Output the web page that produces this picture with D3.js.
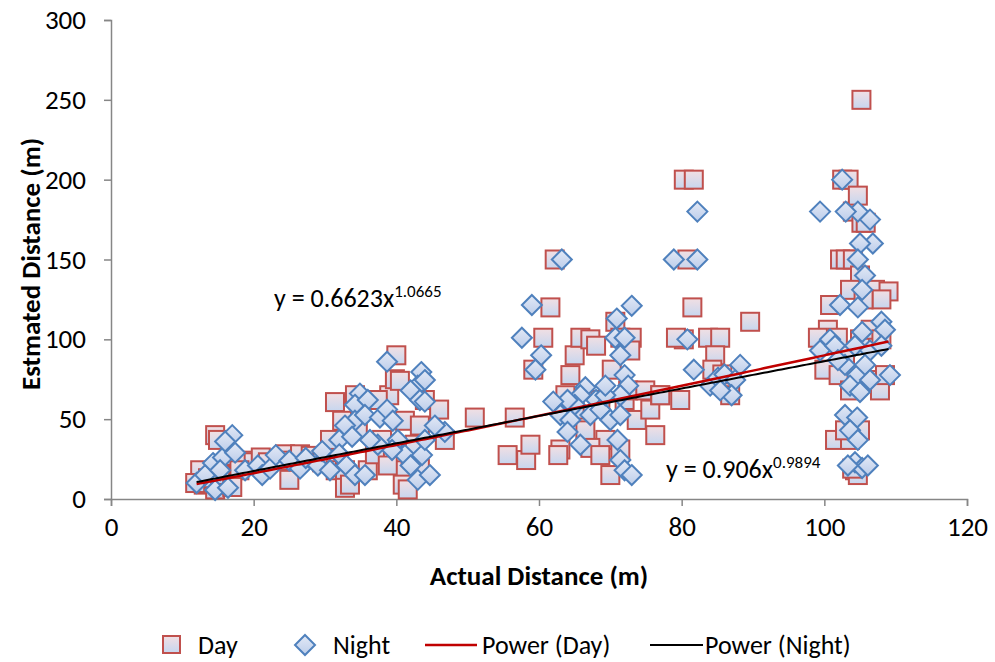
<!DOCTYPE html>
<html><head><meta charset="utf-8">
<script src="https://cdn.jsdelivr.net/npm/d3@7"></script>
<style>body{margin:0;background:#fff}svg{display:block;font-family:Carlito,Lato,"Liberation Sans",sans-serif}</style>
</head><body><div id="c"></div>
<script>
const xTicks=[0,20,40,60,80,100,120];
const yTicks=[0,50,100,150,200,250,300];
const dayX=[14.6,15,12.5,13,14.6,16.7,16.4,18.8,20,21,22,24.4,25,26.5,28,29.6,30.7,23.7,18,13.6,15.3,17,11.8,
31.4,31.5,32.8,32.8,33.5,34.2,34.9,34.6,36,37,38,39,39.8,40,40.5,41.2,41.2,40.9,41.6,42,42.6,43.3,44,46,46.8,43.3,30.7,37.4,38.8,32.4,
51,55.6,56.6,58.2,58.8,59.2,60.6,61.6,62.2,63,63.7,64.4,65,65.8,67.2,66.5,68,68.6,69.3,70,70.7,71.4,72,72.5,73,73.7,74.9,75.6,76.3,77,67.2,68.6,71.4,65,62.7,70.2,72.8,
80.3,81.7,80.8,81.5,80.3,79.2,83.7,85.4,84.7,84.3,85.7,79.8,77,89.6,86.8,
105.2,102.5,103.4,104,104.7,105.2,105.8,102.2,103,104,105,107.1,109,108,103.6,105.5,100.8,100.5,99.1,101.9,105,106.5,102.9,108,100,102,103.6,106.5,107.8,108.5,101.5,103.6,102.9,105,104.3,104.7,103.9];
const dayY=[40,37,18,9,6,27,9,24,23,26,23,28,12,28,27,23,27,24,18,13,15,7.5,10,
60.7,18,18,7,9,65,56,43,18,28,37,65,75,90,74,49,18,9,6,28,34,46,62,56,37,19,37,62,21,49,
51,27.5,51,24.4,34,81,101,120,150,31,65,77.6,90,101,100,43,96,62,37,15,111,101,62,68,101,49.5,68,56,40,65,32,27.5,31,56,27.5,81,93,
200,200,150,120,100,101,101,101,90,81,78,62,65,111,65,
250,200,200,180,190,173,173,150,150,150,140,131,130,125,131,125,121.5,106,101,101,100,106,90,100,81,77.6,68,74.5,68,77.6,37,37,43,43,18,15,19];
const nightX=[12,13.2,14.3,15.7,17,16,17.4,15.3,14.6,16.4,18.8,20.6,21.2,22.3,23.1,25,26.5,27.3,29,29.6,
38.7,43.5,43,44,42,43.3,44,34.9,34.2,36,34.2,35.6,32.8,32,33.8,32,33,34.2,35.6,37.7,38.7,39.5,40.2,41.2,42,43,43.6,44.7,46.8,45.4,39.4,37.4,44,36.3,30.7,
63.2,59,73,57.6,60.3,59.5,70.9,70.7,72,71.4,72,72.5,71.4,68,66.5,65.8,65,64,62,63,64.4,67.2,68.6,70,71.4,71,71.4,72,73,69.3,64,65.8,69.3,
82.2,78.9,82.2,80.8,81.7,84,85.1,86,87.5,88.2,87,85.4,
99.4,102.5,104.7,103,106.4,106.8,105,104.7,105.7,105.3,102.2,104.7,108,108.5,100.8,99.4,101.5,105.3,104.3,106.4,108,102.9,104.6,105.7,106.4,109.2,103.6,105,102.9,104.6,103.6,104.7,104.3,105.3,106.1,103.3,101.9];
const nightY=[10,15,22.5,26,40,36,29,18,5.6,7,18,21,15,19,27.5,24,19,25.7,21,30,
86,79.5,71,74.5,68,62,61,66,59,62,49,52.6,46,37,39,28,21,15,15,51,56,49,37,27.5,21,12,27.5,15,42,46,30.7,34,37,37,18,
150,121.5,121,101,90,81,113,101,101,90,77.6,71,65,62,70,65,59,62,61,52.6,49.5,52.6,56,49.5,52.6,37,24.4,18,15,65,42,34,71,
180,150,150,100,81,71,76,78,74.5,84,65,68,
180,200,180,180,175,160,160,150,140,131,121.5,120,111,106,100,93,96,104.6,96,93,96,84,77.6,84,74.5,77.6,71,67,52.6,51,43,37,23,19.4,21,21,87];
const seriesNames=["Day","Night","Power (Day)","Power (Night)"];
const powCoef=[0.6623,0.906];
const powExp=[1.0665,0.9894];
const fitRange=[12,109];

const W=995,H=662;
const svg=d3.select("#c").append("svg").attr("width",W).attr("height",H);
const x=d3.scaleLinear().domain([0,120]).range([111,967]);
const y=d3.scaleLinear().domain([0,300]).range([499,20]);
const defs=svg.append("defs");
const g1=defs.append("linearGradient").attr("id","gd").attr("x1",0).attr("y1",0).attr("x2",0).attr("y2",1);
g1.append("stop").attr("offset","0%").attr("stop-color","#f2dfe3");
g1.append("stop").attr("offset","100%").attr("stop-color","#c6d6ef");
const g2=defs.append("linearGradient").attr("id","gn").attr("x1",0).attr("y1",0).attr("x2",0).attr("y2",1);
g2.append("stop").attr("offset","0%").attr("stop-color","#e3e9f6");
g2.append("stop").attr("offset","100%").attr("stop-color","#bccdea");

const axisColor="#868686";
const xa=svg.append("g").attr("transform","translate(0,499)").call(d3.axisBottom(x).tickValues(xTicks).tickSize(7).tickPadding(11));
const ya=svg.append("g").attr("transform","translate(111,0)").call(d3.axisLeft(y).tickValues(yTicks).tickSize(7).tickPadding(18));
[xa,ya].forEach(a=>{a.select(".domain").attr("stroke",axisColor).attr("stroke-width",1.5);
 a.selectAll(".tick line").attr("stroke",axisColor).attr("stroke-width",1.5);
 a.selectAll("text").attr("font-size",27).attr("fill","#000").attr("font-family","Carlito,Lato,sans-serif");});

const day=dayX.map((v,i)=>[v,dayY[i]]);
const night=nightX.map((v,i)=>[v,nightY[i]]);
const s=18;
svg.append("g").selectAll("rect").data(day).join("rect")
 .attr("x",d=>x(d[0])-s/2).attr("y",d=>y(d[1])-s/2).attr("width",s).attr("height",s)
 .attr("fill","url(#gd)").attr("stroke","#c0504d").attr("stroke-width",2);
const dd=10;
svg.append("g").selectAll("path").data(night).join("path")
 .attr("d",d=>{const cx=x(d[0]),cy=y(d[1]);return `M${cx},${cy-dd}L${cx+dd},${cy}L${cx},${cy+dd}L${cx-dd},${cy}Z`;})
 .attr("fill","url(#gn)").attr("stroke","#4f81bd").attr("stroke-width",2);

const lineColors=["#c00000","#000000"];
const lineW=[2.5,2];
const xs=d3.range(fitRange[0],fitRange[1]+0.01,0.5);
[0,1].forEach(k=>{
 svg.append("path").datum(xs.map(v=>[v,powCoef[k]*Math.pow(v,powExp[k])]))
  .attr("d",d3.line().x(d=>x(d[0])).y(d=>y(d[1])))
  .attr("fill","none").attr("stroke",lineColors[k]).attr("stroke-width",lineW[k]);
});

function eq(tx,ty,c,e){
 const t=svg.append("text").attr("x",tx).attr("y",ty).attr("font-size",26).attr("fill","#000");
 t.append("tspan").text("y = "+c+"x");
 t.append("tspan").attr("dy",-10).attr("font-size",17).text(e);
}
eq(274,307,"0.6623","1.0665");
eq(666,478,"0.906","0.9894");

svg.append("text").attr("x",539).attr("y",585).attr("text-anchor","middle").attr("font-size",27).attr("font-weight","bold").text("Actual Distance (m)");
svg.append("text").attr("transform","translate(40,264) rotate(-90)").attr("text-anchor","middle").attr("font-size",27).attr("font-weight","bold").text("Estmated Distance (m)");

const ly=645;
const lg=svg.append("g");
lg.append("rect").attr("x",163).attr("y",ly-9).attr("width",17).attr("height",17).attr("fill","url(#gd)").attr("stroke","#c0504d").attr("stroke-width",2);
lg.append("text").attr("x",198).attr("y",ly+9).attr("font-size",26).text(seriesNames[0]);
lg.append("path").attr("d",`M305,${ly-10}L315,${ly}L305,${ly+10}L295,${ly}Z`).attr("fill","url(#gn)").attr("stroke","#4f81bd").attr("stroke-width",2);
lg.append("text").attr("x",333).attr("y",ly+9).attr("font-size",26).text(seriesNames[1]);
lg.append("line").attr("x1",425).attr("x2",477).attr("y1",ly).attr("y2",ly).attr("stroke","#c00000").attr("stroke-width",2.5);
lg.append("text").attr("x",482).attr("y",ly+9).attr("font-size",26).text(seriesNames[2]);
lg.append("line").attr("x1",650).attr("x2",703).attr("y1",ly).attr("y2",ly).attr("stroke","#000").attr("stroke-width",2);
lg.append("text").attr("x",705).attr("y",ly+9).attr("font-size",26).text(seriesNames[3]);
</script></body></html>
